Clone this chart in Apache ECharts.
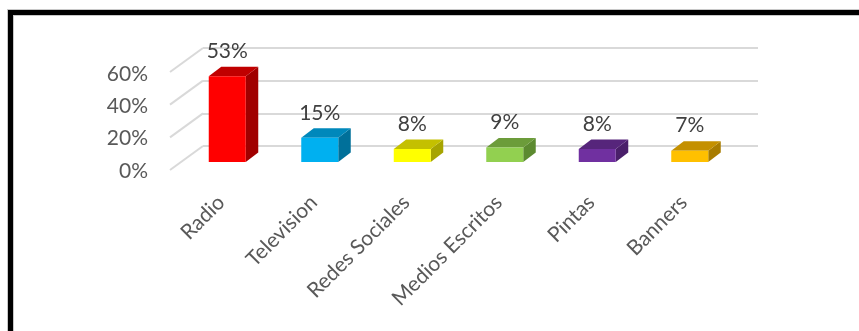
<!DOCTYPE html>
<html>
<head>
<meta charset="utf-8">
<script src="https://cdn.jsdelivr.net/npm/echarts@6/dist/echarts.min.js"></script>
<style>
  html, body { margin: 0; padding: 0; background: #fff; }
  #chart { width: 859px; height: 331px; }
</style>
</head>
<body>
<div id="chart"></div>
<script>
// Media channels and their share of responses
const categories = ['Radio', 'Television', 'Redes Sociales', 'Medios Escritos', 'Pintas', 'Banners'];
const shares = [0.53, 0.15, 0.08, 0.09, 0.08, 0.07];
const wallTicks = [0, 0.2, 0.4, 0.6];

// Face colours per bar: front, top, side
const frontColors = ['#ff0000', '#00b0f0', '#ffff00', '#92d050', '#7030a0', '#ffc000'];
const topColors   = ['#c00000', '#0088bb', '#c4c000', '#6c9c3a', '#56257b', '#c49000'];
const sideColors  = ['#a00000', '#00709a', '#a6a400', '#5c8a30', '#4a1f6a', '#a87c00'];

const FONT = 'Lato';
const FONT_SIZE = 21;
const DEPTH = [12.5, -9.5];      // bar extrusion
const WALL_FRONT = [-33, 24];    // floor front edge relative to back wall

const pct = v => Math.round(v * 100) + '%';

const chart = echarts.init(document.getElementById('chart'), null, { renderer: 'canvas' });

chart.setOption({
  backgroundColor: '#ffffff',
  animation: false,
  graphic: [
    { type: 'rect', z: 100, shape: { x: 10.5, y: 12.5, width: 1200, height: 1200 },
      style: { fill: 'none', stroke: '#c8c8c8', lineWidth: 7 } },
    { type: 'rect', z: 101, shape: { x: 10.5, y: 12.5, width: 1200, height: 1200 },
      style: { fill: 'none', stroke: '#000000', lineWidth: 5 } }
  ],
  grid: [
    // front plane of the bars
    { left: 181, right: 123, top: 65, bottom: 169 },
    // floor front edge: axis labels
    { left: 175, right: 129, top: 74, bottom: 160 },
    // back wall
    { left: 203, right: 101, top: 48, bottom: 185 }
  ],
  xAxis: [
    { gridIndex: 0, type: 'category', data: categories, show: false },
    {
      gridIndex: 1, type: 'category', data: categories,
      axisLine: { show: false }, axisTick: { show: false },
      axisLabel: { rotate: 45, margin: 28, fontFamily: FONT, fontSize: FONT_SIZE, color: '#595959', interval: 0 }
    },
    { gridIndex: 2, type: 'value', min: 0, max: 1, show: false }
  ],
  yAxis: [
    { gridIndex: 0, type: 'value', min: 0, max: 0.6, interval: 0.2, show: false },
    {
      gridIndex: 1, type: 'value', min: 0, max: 0.6, interval: 0.2,
      axisLine: { show: false }, axisTick: { show: false }, splitLine: { show: false },
      axisLabel: { margin: 27, fontFamily: FONT, fontSize: FONT_SIZE, color: '#595959', formatter: pct }
    },
    {
      gridIndex: 2, type: 'value', min: 0, max: 0.6, interval: 0.2,
      axisLine: { show: false }, axisTick: { show: false }, axisLabel: { show: false },
      splitLine: { show: true, lineStyle: { color: '#d9d9d9', width: 2 } }
    }
  ],
  series: [
    {
      // side-wall gridlines running from the floor front edge to the back wall
      type: 'custom',
      xAxisIndex: 2, yAxisIndex: 2,
      silent: true, z: 1,
      data: wallTicks,
      renderItem: function (params, api) {
        const back = api.coord([0, api.value(0)]);
        const front = [back[0] + WALL_FRONT[0], back[1] + WALL_FRONT[1]];
        return {
          type: 'line',
          shape: { x1: front[0], y1: front[1], x2: back[0], y2: back[1] },
          style: { stroke: '#d9d9d9', lineWidth: 2 }
        };
      }
    },
    {
      // extruded bars with value labels
      type: 'custom',
      xAxisIndex: 0, yAxisIndex: 0,
      z: 5,
      data: shares.map((v, i) => [i, v]),
      renderItem: function (params, api) {
        const i = api.value(0);
        const v = api.value(1);
        const top = api.coord([i, v]);
        const base = api.coord([i, 0]);
        const w = api.size([1, 0])[0] * 0.4;
        const x0 = top[0] - w / 2, x1 = top[0] + w / 2;
        const y0 = top[1], yb = base[1];
        const dx = DEPTH[0], dy = DEPTH[1];
        return {
          type: 'group',
          children: [
            {
              type: 'polygon',
              shape: { points: [[x1, y0], [x1 + dx, y0 + dy], [x1 + dx, yb + dy], [x1, yb]] },
              style: { fill: sideColors[i] }
            },
            {
              type: 'polygon',
              shape: { points: [[x0, y0], [x1, y0], [x1 + dx, y0 + dy], [x0 + dx, y0 + dy]] },
              style: { fill: topColors[i] }
            },
            {
              type: 'rect',
              shape: { x: x0, y: y0, width: w, height: yb - y0 },
              style: { fill: frontColors[i] }
            },
            {
              type: 'text',
              x: top[0], y: y0 - 25,
              style: {
                text: pct(v), fontFamily: FONT, fontSize: FONT_SIZE, fill: '#404040',
                align: 'center', verticalAlign: 'middle'
              }
            }
          ]
        };
      }
    }
  ]
});
</script>
</body>
</html>
